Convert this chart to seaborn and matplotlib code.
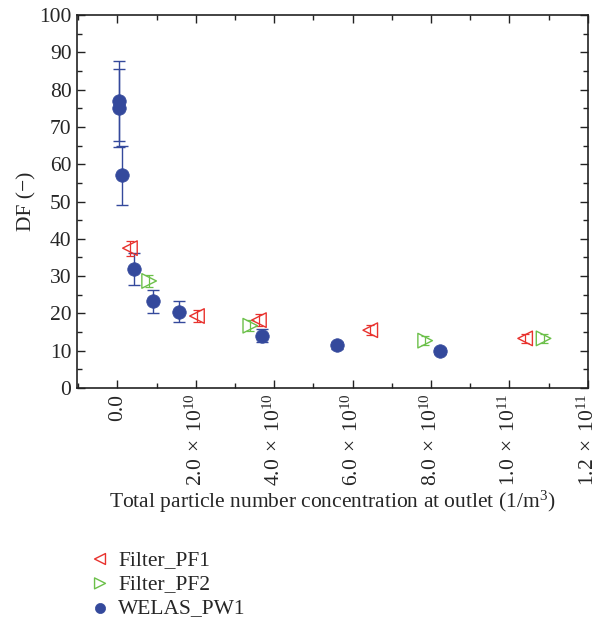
import numpy as np
import pandas as pd
import matplotlib
matplotlib.use("Agg")
import matplotlib.pyplot as plt
import matplotlib.ticker as mticker
import seaborn as sns

# Data
pf1_x = [3.2e9, 2.03e10, 3.61e10, 6.45e10, 1.04e11]
pf1_y = [37.5, 19.3, 18.2, 15.5, 13.3]
pf1_err = [2.0, 1.6, 1.6, 1.4, 1.3]

pf2_x = [8.1e9, 3.39e10, 7.85e10, 1.087e11]
pf2_y = [28.7, 16.7, 12.7, 13.3]
pf2_err = [1.5, 1.4, 1.2, 1.3]

pw1_x = [4.3e8, 4.3e8, 1.2e9, 4.3e9, 9.1e9, 1.56e10, 3.69e10, 5.6e10, 8.24e10]
pw1_y = [77.0, 75.0, 57.0, 32.0, 23.2, 20.5, 14.0, 11.4, 10.0]
pw1_err = [10.7, 10.5, 8.0, 4.3, 3.2, 2.9, 1.7, 1.0, 0.8]

x_ticks = [0.0, 2e10, 4e10, 6e10, 8e10, 1e11, 1.2e11]
x_ticklabels = ["0.0", r"$\mathregular{2.0\,\times\,10^{10}}$", r"$\mathregular{4.0\,\times\,10^{10}}$",
                r"$\mathregular{6.0\,\times\,10^{10}}$", r"$\mathregular{8.0\,\times\,10^{10}}$",
                r"$\mathregular{1.0\,\times\,10^{11}}$", r"$\mathregular{1.2\,\times\,10^{11}}$"]

RED = "#e8322e"
GREEN = "#6cc04a"
BLUE = "#34499c"

sns.set_style("ticks")
plt.rcParams["font.family"] = ["Liberation Serif", "DejaVu Serif"]
plt.rcParams["mathtext.fontset"] = "custom"
plt.rcParams["mathtext.rm"] = "Liberation Serif"

FS = 15.5

fig = plt.figure(figsize=(5.95, 6.21), dpi=100)
ax = fig.add_axes([0.1294, 0.3752, 0.8586, 0.6006])

df1 = pd.DataFrame({"x": pf1_x, "y": pf1_y})
df2 = pd.DataFrame({"x": pf2_x, "y": pf2_y})
df3 = pd.DataFrame({"x": pw1_x, "y": pw1_y})

ax.errorbar(pw1_x, pw1_y, yerr=pw1_err, fmt="none", ecolor=BLUE, elinewidth=1.0, capsize=4, capthick=1.0, zorder=2)
ax.errorbar(pf1_x, pf1_y, yerr=pf1_err, fmt="none", ecolor=RED, elinewidth=0.9, capsize=3, capthick=0.9, zorder=2)
ax.errorbar(pf2_x, pf2_y, yerr=pf2_err, fmt="none", ecolor=GREEN, elinewidth=0.9, capsize=3, capthick=0.9, zorder=2)

sns.scatterplot(data=df1, x="x", y="y", ax=ax, marker="<", s=110, facecolors="none",
                edgecolor=RED, linewidth=1.0, label="Filter_PF1", zorder=3)
sns.scatterplot(data=df2, x="x", y="y", ax=ax, marker=">", s=110, facecolors="none",
                edgecolor=GREEN, linewidth=1.0, label="Filter_PF2", zorder=3)
sns.scatterplot(data=df3, x="x", y="y", ax=ax, marker="o", s=95, color=BLUE,
                edgecolor=BLUE, linewidth=0.5, label="WELAS_PW1", zorder=4)

ax.set_xlim(-1.03e10, 1.2e11)
ax.set_ylim(0, 100)
ax.set_xticks(x_ticks)
ax.set_xticklabels(x_ticklabels, rotation=90, fontsize=FS, va="top", ha="center")
ax.xaxis.set_minor_locator(mticker.MultipleLocator(1e10))
ax.set_yticks(np.arange(0, 101, 10))
ax.yaxis.set_minor_locator(mticker.MultipleLocator(5))
ax.tick_params(axis="y", labelsize=FS)
ax.tick_params(which="both", direction="in", top=True, right=True, color="#222222", width=1.0)
ax.tick_params(which="major", length=6, pad=4)
ax.tick_params(which="minor", length=3.5)
for s in ax.spines.values():
    s.set_linewidth(1.2)
    s.set_color("#222222")

ax.set_xlabel(r"Total particle number concentration at outlet (1/m$\mathregular{^3}$)", fontsize=FS, labelpad=2)
ax.set_ylabel("DF (\u2212)", fontsize=FS, labelpad=2)

handles, labels = ax.get_legend_handles_labels()
ax.get_legend().remove()
fig.legend(handles, labels, loc="upper left", bbox_to_anchor=(0.15, 0.115), frameon=False,
           fontsize=FS, handlelength=1.0, handletextpad=0.35, labelspacing=0.2, markerscale=0.75,
           borderaxespad=0, borderpad=0)

fig.savefig("out.png", dpi=100)
